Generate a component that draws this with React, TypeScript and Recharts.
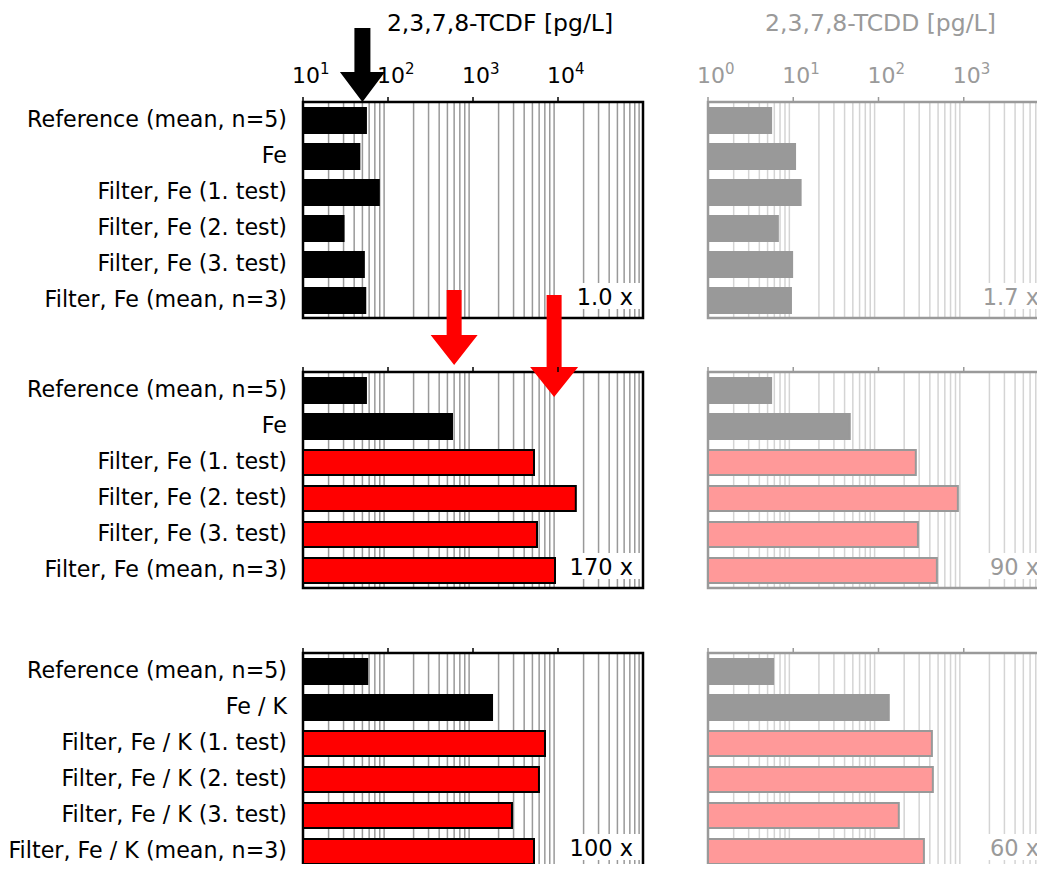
import React from "react";
import {
  BarChart,
  Bar,
  XAxis,
  YAxis,
  CartesianGrid,
  ReferenceArea,
  ReferenceLine,
  Cell,
} from "recharts";

const FONT = "'DejaVu Sans', sans-serif";

// category labels
const feNames = [
  "Reference (mean, n=5)",
  "Fe",
  "Filter, Fe (1. test)",
  "Filter, Fe (2. test)",
  "Filter, Fe (3. test)",
  "Filter, Fe (mean, n=3)",
];
const feKNames = [
  "Reference (mean, n=5)",
  "Fe / K",
  "Filter, Fe / K (1. test)",
  "Filter, Fe / K (2. test)",
  "Filter, Fe / K (3. test)",
  "Filter, Fe / K (mean, n=3)",
];

// 2,3,7,8-TCDF [pg/L]
const tcdfRow1 = [55, 46, 78, 30, 52, 54];
const tcdfRow2 = [55, 566, 5220, 16200, 5660, 9220];
const tcdfRow3 = [57, 1675, 7030, 5970, 2875, 5220];

// 2,3,7,8-TCDD [pg/L]
const tcddRow1 = [5.5, 10.5, 12.2, 6.6, 9.7, 9.4];
const tcddRow2 = [5.5, 46, 274, 853, 290, 484];
const tcddRow3 = [5.8, 132, 423, 434, 173, 341];

const tcdfRatios = ["1.0 x", "170 x", "100 x"];
const tcddRatios = ["1.7 x", "90 x", "60 x"];

const tcdfMajor = [10, 100, 1000, 10000];
const tcdfMinor = [
  20, 30, 40, 50, 60, 70, 80, 90,
  200, 300, 400, 500, 600, 700, 800, 900,
  2000, 3000, 4000, 5000, 6000, 7000, 8000, 9000,
  20000, 30000, 40000, 50000, 60000, 70000, 80000, 90000,
];
const tcddMajor = [1, 10, 100, 1000];
const tcddMinor = [
  2, 3, 4, 5, 6, 7, 8, 9,
  20, 30, 40, 50, 60, 70, 80, 90,
  200, 300, 400, 500, 600, 700, 800, 900,
  2000, 3000, 4000, 5000, 6000, 7000, 8000, 9000,
];

// values the arrows point at
const arrowTargetsRow1 = [50];
const arrowTargetsRow2 = [600, 9000];

const LEFT = {
  title: "2,3,7,8-TCDF [pg/L]",
  titleDx: 27,
  domain: [10, 100000] as [number, number],
  major: tcdfMajor,
  minor: tcdfMinor,
  ink: "#000",
  grid: "#999999",
  fill: "#000",
  hiFill: "#ff0000",
  hiStroke: "#000",
  chartLeft: 0,
  chartWidth: 660,
  marginLeft: 0,
  marginRight: 17,
  showNames: true,
};

const RIGHT = {
  title: "2,3,7,8-TCDD [pg/L]",
  titleDx: 2,
  domain: [1, 10000] as [number, number],
  major: tcddMajor,
  minor: tcddMinor,
  ink: "#9a9a9a",
  grid: "#d4d4d4",
  fill: "#999",
  hiFill: "#ff9999",
  hiStroke: "#999",
  chartLeft: 690,
  chartWidth: 380,
  marginLeft: 18,
  marginRight: 21,
  showNames: false,
};

const ROWS = [
  { top: 0, height: 330, plotTop: 102 },
  { top: 280, height: 320, plotTop: 92 },
  { top: 600, height: 272, plotTop: 53 },
];
const PLOT_H = 216;
const AXIS_H = 40;

function LogTick(props: any) {
  const { x, y, payload, color, showLabel } = props;
  const exp = Math.round(Math.log10(payload.value));
  return (
    <g>
      <line x1={x} x2={x} y1={y} y2={y - 5} stroke={color} strokeWidth={1.5} />
      {showLabel && (
        <text x={x - 11} y={y - 19} fill={color} fontSize={22} fontFamily={FONT}>
          10
          <tspan dy={-9} fontSize={15}>
            {exp}
          </tspan>
        </text>
      )}
    </g>
  );
}

function NameTick(props: any) {
  const { x, y, payload } = props;
  return (
    <text x={x} y={y + 7} textAnchor="end" fontSize={22.2} fontFamily={FONT} fill="#000">
      {payload.value}
    </text>
  );
}

function Arrow(props: any) {
  const { x1, y1, y2, color, tip, tail, headLen = 30, headW = 46, shaftW = 15 } = props;
  const top = Math.min(y1, y2);
  const tipY = top + tip;
  const tailY = top + tail;
  const headY = tipY - headLen;
  const d = [
    `M${x1 - shaftW / 2},${tailY}`,
    `L${x1 + shaftW / 2},${tailY}`,
    `L${x1 + shaftW / 2},${headY}`,
    `L${x1 + headW / 2},${headY}`,
    `L${x1},${tipY}`,
    `L${x1 - headW / 2},${headY}`,
    `L${x1 - shaftW / 2},${headY}`,
    "Z",
  ].join(" ");
  return <path d={d} fill={color} stroke="none" />;
}

function charWidth(c: string) {
  if (c >= "0" && c <= "9") return 14;
  if (c === "x") return 13;
  return 7;
}

interface ArrowSpec {
  value: number;
  color: string;
  tip: number;
  tail: number;
  headW?: number;
  shaftW?: number;
}

interface PanelProps {
  side: typeof LEFT;
  row: { top: number; height: number; plotTop: number };
  names: string[];
  values: number[];
  highlight: boolean;
  ratio: string;
  first: boolean;
  arrows?: ArrowSpec[];
}

function Panel({ side, row, names, values, highlight, ratio, first, arrows = [] }: PanelProps) {
  const data = names.map((name, i) => ({ name, value: values[i], hi: highlight && i >= 2 }));

  const titleContent = (props: any) => {
    const vb = props.viewBox;
    return (
      <text
        x={vb.x + vb.width / 2 + side.titleDx}
        y={vb.y - 31}
        textAnchor="middle"
        fill={side.ink}
        fontSize={23.5}
        fontFamily={FONT}
      >
        {side.title}
      </text>
    );
  };

  const ratioContent = (props: any) => {
    const { x, y, width, height } = props.viewBox;
    const right = x + width - 10;
    const base = y + height - 13;
    const w = ratio.split("").reduce((s, c) => s + charWidth(c), 0);
    return (
      <g>
        <rect x={right - w - 4} y={base - 22} width={w + 12} height={26} fill="#fff" />
        <text x={right} y={base} textAnchor="end" fill={side.ink} fontSize={22.5} fontFamily={FONT}>
          {ratio}
        </text>
      </g>
    );
  };

  return (
    <div style={{ position: "absolute", left: side.chartLeft, top: row.top }}>
      <BarChart
        layout="vertical"
        width={side.chartWidth}
        height={row.height}
        data={data}
        margin={{
          top: row.plotTop - AXIS_H,
          bottom: row.height - row.plotTop - PLOT_H,
          left: side.marginLeft,
          right: side.marginRight,
        }}
      >
        <CartesianGrid
          horizontal={false}
          vertical
          verticalValues={side.minor}
          stroke={side.grid}
          strokeWidth={1.5}
        />
        <XAxis
          type="number"
          scale="log"
          domain={side.domain}
          allowDataOverflow
          orientation="top"
          ticks={side.major}
          interval={0}
          height={AXIS_H}
          tickSize={0}
          tickMargin={0}
          axisLine={false}
          tickLine={false}
          tick={<LogTick color={side.ink} showLabel={first} />}
          label={first ? titleContent : undefined}
        />
        <YAxis
          type="category"
          dataKey="name"
          hide={!side.showNames}
          width={303}
          axisLine={false}
          tickLine={false}
          tickSize={0}
          tickMargin={16}
          interval={0}
          tick={<NameTick />}
        />
        <Bar dataKey="value" barSize={25} isAnimationActive={false}>
          {data.map((d, i) => (
            <Cell
              key={i}
              fill={d.hi ? side.hiFill : side.fill}
              stroke={d.hi ? side.hiStroke : side.fill}
              strokeWidth={2}
            />
          ))}
        </Bar>
        <ReferenceArea
          x1={side.domain[0]}
          x2={side.domain[1]}
          fill="none"
          fillOpacity={0}
          stroke={side.ink}
          strokeWidth={2.5}
          ifOverflow="visible"
          label={ratioContent}
        />
        {arrows.map((a, i) => (
          <ReferenceLine
            key={i}
            x={a.value}
            ifOverflow="visible"
            shape={<Arrow color={a.color} tip={a.tip} tail={a.tail} headW={a.headW} shaftW={a.shaftW} />}
          />
        ))}
      </BarChart>
    </div>
  );
}

export default function App() {
  return (
    <div
      style={{
        position: "relative",
        width: 1045,
        height: 872,
        margin: -8,
        overflow: "hidden",
        background: "#fff",
      }}
    >
      <Panel side={LEFT} row={ROWS[0]} names={feNames} values={tcdfRow1} highlight={false} ratio={tcdfRatios[0]} first
        arrows={[{ value: arrowTargetsRow1[0], color: "#000", tip: 0, tail: -74, headW: 45, shaftW: 16 }]} />
      <Panel side={LEFT} row={ROWS[1]} names={feNames} values={tcdfRow2} highlight ratio={tcdfRatios[1]} first={false}
        arrows={[
          { value: arrowTargetsRow2[0], color: "#ff0000", tip: -7, tail: -82, headW: 47 },
          { value: arrowTargetsRow2[1], color: "#ff0000", tip: 25, tail: -77, headW: 48 },
        ]} />
      <Panel side={LEFT} row={ROWS[2]} names={feKNames} values={tcdfRow3} highlight ratio={tcdfRatios[2]} first={false} />
      <Panel side={RIGHT} row={ROWS[0]} names={feNames} values={tcddRow1} highlight={false} ratio={tcddRatios[0]} first />
      <Panel side={RIGHT} row={ROWS[1]} names={feNames} values={tcddRow2} highlight ratio={tcddRatios[1]} first={false} />
      <Panel side={RIGHT} row={ROWS[2]} names={feKNames} values={tcddRow3} highlight ratio={tcddRatios[2]} first={false} />
    </div>
  );
}
